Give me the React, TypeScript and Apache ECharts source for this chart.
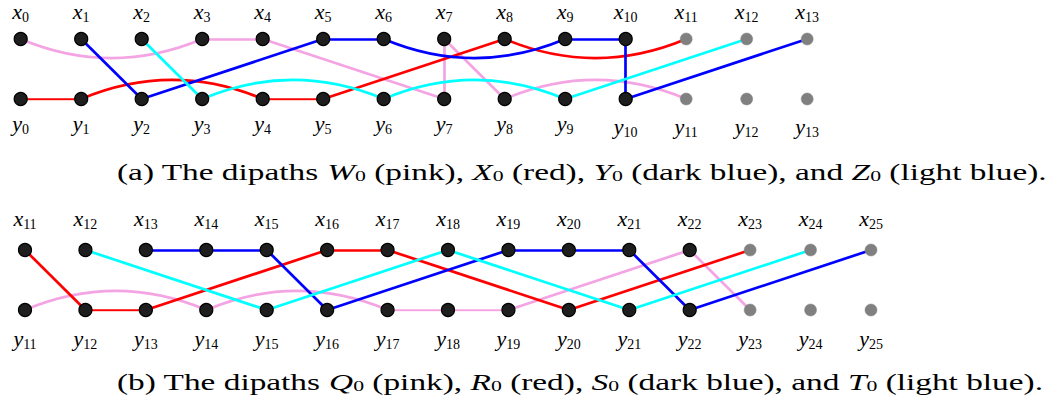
import React, { useEffect, useRef } from "react";
import * as echarts from "echarts";

// ---------- data ----------
const topIndices = [0, 1, 2, 3, 4, 5, 6, 7, 8, 9, 10, 11, 12, 13];
const topGrey = [11, 12, 13];
const botIndices = [11, 12, 13, 14, 15, 16, 17, 18, 19, 20, 21, 22, 23, 24, 25];
const botGrey = [23, 24, 25];

// edges: [from, to, bend]  bend: 1 = arches up, -1 = dips down, 0 = straight
const topPink = [["x0", "x3", -1], ["x3", "x4", 0], ["x4", "y7", 0], ["y7", "x7", 0], ["x7", "y8", 0], ["y8", "y11", 1]];
const topRed = [["y0", "y1", 0], ["y1", "y4", 1], ["y4", "y5", 0], ["y5", "x8", 0], ["x8", "x11", -1]];
const topBlue = [["x1", "y2", 0], ["y2", "x5", 0], ["x5", "x6", 0], ["x6", "x9", -1], ["x9", "x10", 0], ["x10", "y10", 0], ["y10", "x13", 0]];
const topCyan = [["x2", "y3", 0], ["y3", "y6", 1], ["y6", "y9", 1], ["y9", "x12", 0]];

const botPink = [["y11", "y14", 1], ["y14", "y17", 1], ["y17", "y18", 0], ["y18", "y19", 0], ["y19", "x22", 0], ["x22", "y23", 0]];
const botRed = [["x11", "y12", 0], ["y12", "y13", 0], ["y13", "x16", 0], ["x16", "x17", 0], ["x17", "y20", 0], ["y20", "x23", 0]];
const botBlue = [["x13", "x14", 0], ["x14", "x15", 0], ["x15", "y16", 0], ["y16", "x19", 0], ["x19", "x20", 0], ["x20", "x21", 0], ["x21", "y22", 0], ["y22", "x25", 0]];
const botCyan = [["x12", "y15", 0], ["y15", "x18", 0], ["x18", "y21", 0], ["y21", "x24", 0]];

const captionA = "(a) The dipaths {i|W}{s|0} (pink), {i|X}{s|0} (red), {i|Y}{s|0} (dark blue), and {i|Z}{s|0} (light blue).";
const captionB = "(b) The dipaths {i|Q}{s|0} (pink), {i|R}{s|0} (red), {i|S}{s|0} (dark blue), and {i|T}{s|0} (light blue).";

// ---------- styles ----------
const PINK = "#f4a3e3";
const RED = "#ff0000";
const BLUE = "#0000ff";
const CYAN = "#00ffff";
const SERIF = "'Liberation Serif', 'DejaVu Serif', serif";
const CURVE = 0.21;

const labelRich = {
  v: { fontFamily: SERIF, fontStyle: "italic", fontSize: 22, lineHeight: 10, color: "#000" },
  s: { fontFamily: SERIF, fontStyle: "normal", fontSize: 14, lineHeight: 10, padding: [12, 0, 0, 0], color: "#000" },
};

function parse(n: string): [number, number] {
  return [parseInt(n.slice(1), 10), n[0] === "x" ? 0 : 1];
}

function edgeSeries(edges: any[], color: string, gi: number) {
  return {
    type: "lines",
    coordinateSystem: "cartesian2d",
    xAxisIndex: gi,
    yAxisIndex: gi,
    z: 2,
    silent: true,
    lineStyle: { color, width: 2.7, opacity: 1 },
    data: edges.map(([a, b, bend]) => {
      let p = parse(a);
      let q = parse(b);
      if (p[0] > q[0]) [p, q] = [q, p];
      return { coords: [p, q], lineStyle: { curveness: bend * CURVE } };
    }),
  };
}

// label offsets (px from node centre): [top single, top two-digit, bottom single, bottom two-digit]
function nodeSeries(indices: number[], grey: number[], gi: number, off: number[]) {
  const data: any[] = [];
  indices.forEach((i) => {
    [0, 1].forEach((row) => {
      const isGrey = grey.includes(i);
      const name = row === 0 ? "x" : "y";
      const twoDigit = i >= 10;
      const dy = row === 0 ? (twoDigit ? off[1] : off[0]) : (twoDigit ? off[3] : off[2]);
      data.push({
        value: [i, row],
        symbolSize: isGrey ? 12 : 13,
        itemStyle: isGrey
          ? { color: "#808080", borderColor: "#888", borderWidth: 0.5, opacity: 1 }
          : { color: "#1e1e1e", borderColor: "#000", borderWidth: 1.2, opacity: 1 },
        label: {
          show: true,
          position: "inside",
          offset: [0, dy],
          formatter: `{v|${name}}{s|${i}}`,
          rich: labelRich,
        },
      });
    });
  });
  return {
    type: "scatter",
    xAxisIndex: gi,
    yAxisIndex: gi,
    z: 5,
    silent: true,
    symbol: "circle",
    itemStyle: { opacity: 1 },
    data,
  };
}

const hiddenAxis = { show: false };

export default function App() {
  const ref = useRef<HTMLDivElement>(null);
  useEffect(() => {
    document.body.style.margin = "0";
    const chart = echarts.init(ref.current!, null, { renderer: "svg" });
    const capRich = {
      i: { fontFamily: SERIF, fontStyle: "italic", fontSize: 23, fill: "#000" },
      s: { fontFamily: SERIF, fontSize: 15, verticalAlign: "bottom", lineHeight: 10, fill: "#000" },
    };
    const capStyle = (text: string) => ({
      text,
      rich: capRich,
      fontFamily: SERIF,
      fontSize: 23,
      fill: "#000",
      align: "left",
      verticalAlign: "middle",
    });
    chart.setOption({
      animation: false,
      backgroundColor: "#fff",
      grid: [
        { left: 20.7, top: 39, width: 786.5, height: 60 },
        { left: 25, top: 250, width: 846, height: 60 },
      ],
      xAxis: [
        { type: "value", gridIndex: 0, min: 0, max: 13, ...hiddenAxis },
        { type: "value", gridIndex: 1, min: 11, max: 25, ...hiddenAxis },
      ],
      yAxis: [
        { type: "value", gridIndex: 0, min: 0, max: 1, inverse: true, ...hiddenAxis },
        { type: "value", gridIndex: 1, min: 0, max: 1, inverse: true, ...hiddenAxis },
      ],
      series: [
        edgeSeries(topPink, PINK, 0),
        edgeSeries(topRed, RED, 0),
        edgeSeries(topBlue, BLUE, 0),
        edgeSeries(topCyan, CYAN, 0),
        edgeSeries(botPink, PINK, 1),
        edgeSeries(botRed, RED, 1),
        edgeSeries(botBlue, BLUE, 1),
        edgeSeries(botCyan, CYAN, 1),
        nodeSeries(topIndices, topGrey, 0, [-28, -28, 24, 27]),
        nodeSeries(botIndices, botGrey, 1, [-32, -32, 28, 28]),
      ],
      graphic: [
        { type: "text", x: 117, y: 172, scaleX: 1.45, originX: 0, style: capStyle(captionA) },
        { type: "text", x: 117, y: 382, scaleX: 1.45, originX: 0, style: capStyle(captionB) },
      ],
    });
    return () => chart.dispose();
  }, []);
  return <div ref={ref} style={{ width: 1046, height: 408 }} />;
}
